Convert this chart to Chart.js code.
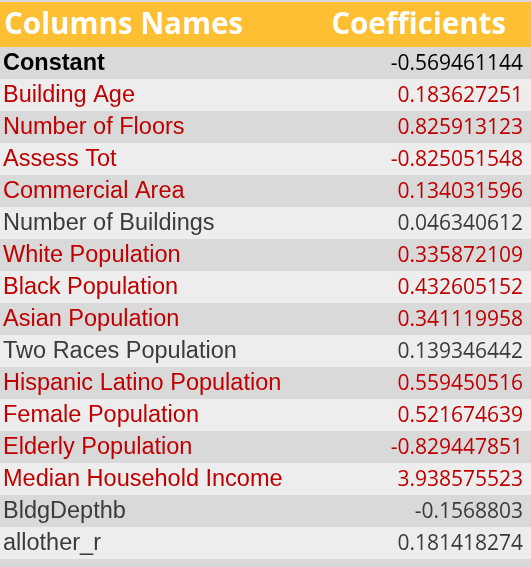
<!DOCTYPE html>
<html><head><meta charset="utf-8">
<script src="https://cdn.jsdelivr.net/npm/chart.js@4"></script>
<style>html,body{margin:0;padding:0;background:#d9d9d9}#w{width:531px;height:567px}</style>
</head><body><div id="w"><canvas id="c" width="531" height="567"></canvas></div>
<script>
const headers = ["Columns Names", "Coefficients"];
const names = ["Constant","Building Age","Number of Floors","Assess Tot","Commercial Area","Number of Buildings","White Population","Black Population","Asian Population","Two Races Population","Hispanic Latino Population","Female Population","Elderly Population","Median Household Income","BldgDepthb","allother_r"];
const coefficients = ["-0.569461144","0.183627251","0.825913123","-0.825051548","0.134031596","0.046340612","0.335872109","0.432605152","0.341119958","0.139346442","0.559450516","0.521674639","-0.829447851","3.938575523","-0.1568803","0.181418274"];
const significant = [0,1,1,1,1,0,1,1,1,0,1,1,1,1,0,0];

const tablePlugin = {
  id: 'table',
  beforeDatasetsDraw(chart) {
    const ctx = chart.ctx, y = chart.scales.y, W = chart.width;
    ctx.save();
    ctx.fillStyle = '#d9d9d9'; ctx.fillRect(0,0,W,chart.height);
    const band = y.getPixelForValue(1) - y.getPixelForValue(0);
    const top0 = y.getPixelForValue(0) - band/2;
    ctx.fillStyle = '#ffbf33'; ctx.fillRect(0, 2, W, top0 - 2);
    ctx.fillStyle = '#ffffff'; ctx.font = 'bold 29.5px "Open Sans", sans-serif';
    ctx.textBaseline = 'middle';
    ctx.textAlign = 'left'; ctx.fillText(headers[0], 4, (top0+2)/2 + 1);
    ctx.textAlign = 'right'; ctx.fillText(headers[1], 506, (top0+2)/2 + 1);
    names.forEach((n, i) => {
      const cy = y.getPixelForValue(i);
      ctx.fillStyle = i % 2 === 0 ? '#d9d9d9' : '#ededed';
      ctx.fillRect(0, cy - band/2, W, band);
      const col = i === 0 ? '#000000' : (significant[i] ? '#c00000' : '#3b3b3b');
      ctx.fillStyle = col;
      ctx.textAlign = 'left';
      ctx.font = (i === 0 ? 'bold ' : '') + '23.5px "Liberation Sans", Arial, sans-serif';
      ctx.fillText(n, 3, cy + 1);
      ctx.textAlign = 'right';
      ctx.font = '21px "Open Sans", sans-serif';
      ctx.fillText(coefficients[i], 523, cy + 1);
    });
    ctx.restore();
  }
};

new Chart(document.getElementById('c'), {
  type: 'bar',
  data: { labels: names, datasets: [{ data: coefficients.map(Number), backgroundColor: 'rgba(0,0,0,0)' }] },
  options: {
    responsive: false, animation: false, indexAxis: 'y',
    layout: { padding: { top: 47, bottom: 8, left: 0, right: 0 } },
    plugins: { legend: { display: false }, tooltip: { enabled: false } },
    scales: { x: { display: false }, y: { display: false, offset: true } }
  },
  plugins: [tablePlugin]
});
</script></body></html>
